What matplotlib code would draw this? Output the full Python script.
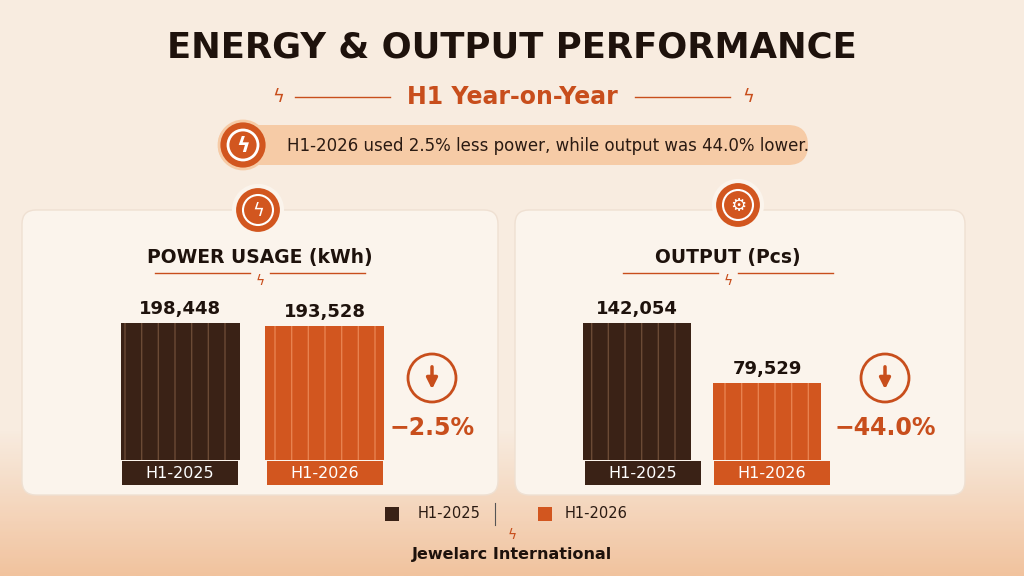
import matplotlib
matplotlib.use("Agg")
import matplotlib.pyplot as plt
from matplotlib.patches import FancyBboxPatch, Circle, Rectangle
import numpy as np

periods = ["H1-2025", "H1-2026"]
power_kwh = [198448, 193528]
output_pcs = [142054, 79529]
power_change = "−2.5%"
output_change = "−44.0%"
title = "ENERGY & OUTPUT PERFORMANCE"
subtitle = "H1 Year-on-Year"
banner = "H1-2026 used 2.5% less power, while output was 44.0% lower."
footer = "Jewelarc International"

DARK = "#3a2216"
ORANGE = "#d2561f"
TXT_OR = "#c84e1c"
BG = "#f8ece0"
PANEL = "#fbf4ec"

W, H = 1024, 576
fig = plt.figure(figsize=(10.24, 5.76), dpi=100)
fig.patch.set_facecolor(BG)
bg = fig.add_axes([0, 0, 1, 1])
bg.set_xlim(0, W); bg.set_ylim(H, 0); bg.axis("off")

grad = np.linspace(0, 1, 100).reshape(-1, 1)
bg.imshow(grad, extent=[0, W, 576, 430], cmap=matplotlib.colors.LinearSegmentedColormap.from_list("w", [BG, "#f0b98e"]), aspect="auto", alpha=0.8, zorder=0)
bg.set_xlim(0, W); bg.set_ylim(H, 0)

bg.text(512, 48, title, ha="center", va="center", fontsize=25.5, fontweight="black", color="#1e120c", family="DejaVu Sans")
bg.text(512, 97, subtitle, ha="center", va="center", fontsize=17, fontweight="bold", color=TXT_OR)
bg.plot([295, 390], [97, 97], color=TXT_OR, lw=1)
bg.plot([635, 730], [97, 97], color=TXT_OR, lw=1)
bg.text(278, 97, "ϟ", ha="center", va="center", fontsize=13, color=TXT_OR)
bg.text(748, 97, "ϟ", ha="center", va="center", fontsize=13, color=TXT_OR)

bg.add_patch(FancyBboxPatch((218, 125), 590, 40, boxstyle="round,pad=0,rounding_size=20", fc="#f6cba6", ec="none"))
bg.add_patch(Circle((243, 145), 24, fc=ORANGE, ec="#f6cba6", lw=2))
bg.add_patch(Circle((243, 145), 15, fc="none", ec="white", lw=2))
bg.text(243, 146, "ϟ", ha="center", va="center", fontsize=15, color="white", fontweight="bold")
bg.text(548, 146, banner, ha="center", va="center", fontsize=12, color="#2a1a12")

for x0, x1, t, cx in [(22, 498, "POWER USAGE (kWh)", 260), (515, 965, "OUTPUT (Pcs)", 728)]:
    bg.add_patch(FancyBboxPatch((x0, 210), x1 - x0, 285, boxstyle="round,pad=0,rounding_size=14", fc=PANEL, ec="#efe0d2", lw=1, zorder=1))
    bg.text(cx, 257, t, ha="center", va="center", fontsize=13.5, fontweight="bold", color="#1e120c", zorder=3)
    bg.plot([cx - 105, cx - 10], [273, 273], color=TXT_OR, lw=1, zorder=3)
    bg.plot([cx + 10, cx + 105], [273, 273], color=TXT_OR, lw=1, zorder=3)
    bg.text(cx, 281, "ϟ", ha="center", va="center", fontsize=10, color=TXT_OR, zorder=3)

for cx, cy in [(258, 210), (738, 205)]:
    bg.add_patch(Circle((cx, cy), 24, fc=ORANGE, ec=PANEL, lw=3, zorder=4))
    bg.add_patch(Circle((cx, cy), 15, fc="none", ec="white", lw=1.5, zorder=5))
bg.text(258, 211, "ϟ", ha="center", va="center", fontsize=13, color="white", zorder=6)
bg.text(738, 206, "⚙", ha="center", va="center", fontsize=13, color="white", zorder=6)

def panel_bars(left_px, right_px, vals):
    ax = fig.add_axes([left_px / W, (576 - 460) / H, (right_px - left_px) / W, 137 / H])
    ax.set_xlim(-0.42, 1.42); ax.set_ylim(0, max(vals))
    ax.axis("off")
    ax.bar([0, 1], vals, width=0.83, color=[DARK, ORANGE], hatch="|", edgecolor=["#6b4a35", "#e8824f"], lw=0)
    for i, v in enumerate(vals):
        ax.text(i, v + max(vals) * 0.04, f"{v:,}", ha="center", va="bottom", fontsize=13, fontweight="bold", color="#1e120c", clip_on=False)
    return ax

panel_bars(120, 385, power_kwh)
panel_bars(582, 822, output_pcs)

for (cx, lab, col) in [(180, periods[0], DARK), (325, periods[1], ORANGE), (643, periods[0], DARK), (772, periods[1], ORANGE)]:
    bg.add_patch(Rectangle((cx - 58, 461), 116, 24, fc=col, ec="none", zorder=3))
    bg.text(cx, 473, lab, ha="center", va="center", fontsize=11.5, color="white", zorder=4)

for cx, ch in [(432, power_change), (885, output_change)]:
    bg.add_patch(Circle((cx, 378), 24, fc="none", ec=TXT_OR, lw=2, zorder=3))
    bg.annotate("", xy=(cx, 392), xytext=(cx, 364), arrowprops=dict(arrowstyle="-|>", color=TXT_OR, lw=2.5, mutation_scale=16), zorder=4)
    bg.text(cx, 428, ch, ha="center", va="center", fontsize=17, fontweight="bold", color=TXT_OR, zorder=3)

bg.add_patch(Rectangle((385, 507), 14, 14, fc=DARK, zorder=3))
bg.text(418, 514, periods[0], va="center", fontsize=10.5, color="#2a1a12")
bg.plot([495, 495], [503, 525], color="#555", lw=0.8)
bg.add_patch(Rectangle((538, 507), 14, 14, fc=ORANGE, zorder=3))
bg.text(565, 514, periods[1], va="center", fontsize=10.5, color="#2a1a12")
bg.text(512, 535, "ϟ", ha="center", va="center", fontsize=10, color=TXT_OR)
bg.text(512, 554, footer, ha="center", va="center", fontsize=11.5, fontweight="bold", color="#1e120c")

fig.savefig("out.png", dpi=100, facecolor=BG)
